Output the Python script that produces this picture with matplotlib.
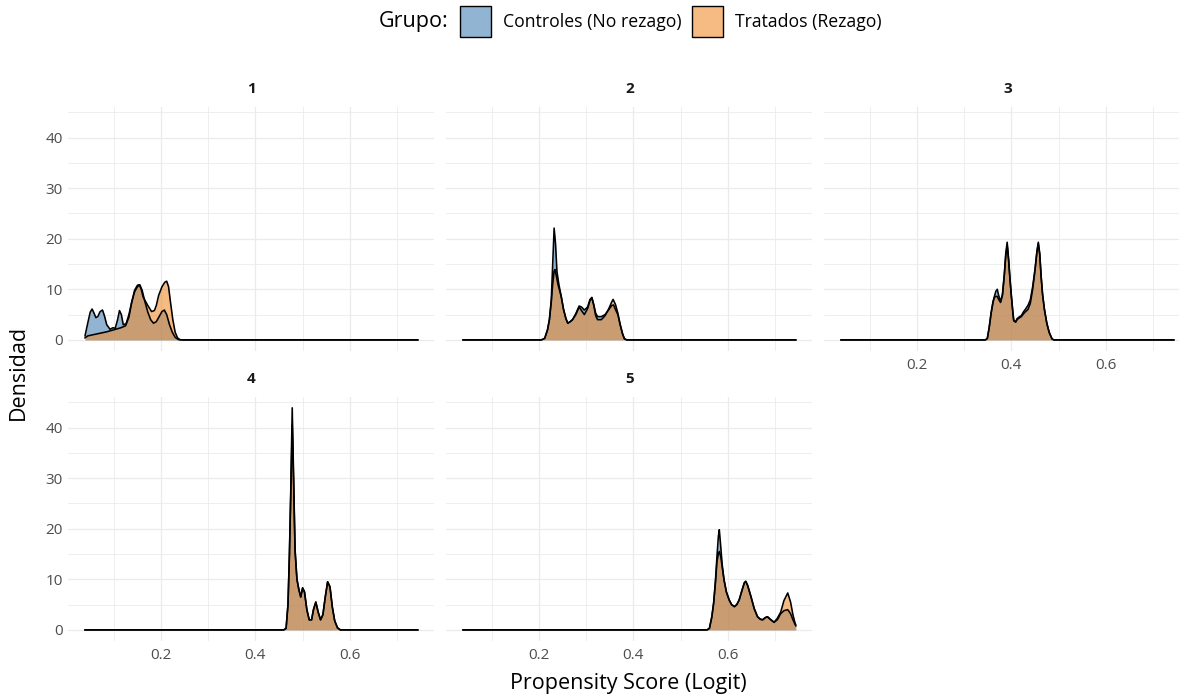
import matplotlib
matplotlib.use("Agg")
import matplotlib.pyplot as plt
from matplotlib.patches import Rectangle

plt.rcParams['font.family'] = ['Open Sans', 'DejaVu Sans']

# ---------------- data ----------------
panels = ["1", "2", "3", "4", "5"]
group_labels = ["Controles (No rezago)", "Tratados (Rezago)"]
x_range = [0.039, 0.744]

p1_x_ctrl = [0.039, 0.044, 0.050, 0.054, 0.058, 0.062, 0.066, 0.071, 0.076, 0.080, 0.085, 0.092, 0.098, 0.103,
             0.108, 0.112, 0.116, 0.120, 0.126, 0.132, 0.138, 0.144, 0.150, 0.155, 0.160, 0.166, 0.172, 0.178,
             0.184, 0.190, 0.196, 0.202, 0.207, 0.212, 0.218, 0.224, 0.230, 0.237, 0.245, 0.744]
p1_y_ctrl = [0.8, 3.0, 5.5, 6.1, 5.3, 4.4, 4.6, 5.6, 5.9, 4.8, 3.0, 2.1, 2.4, 2.3,
             4.0, 5.8, 5.0, 3.0, 3.2, 5.0, 7.5, 9.5, 10.5, 10.9, 9.8, 7.5, 5.5, 4.0,
             3.3, 3.6, 4.6, 5.6, 5.9, 5.0, 3.0, 1.5, 0.5, 0.05, 0.0, 0.0]
p1_x_trat = [0.039, 0.045, 0.055, 0.070, 0.085, 0.100, 0.115, 0.125, 0.132, 0.138, 0.144, 0.150, 0.154, 0.158,
             0.162, 0.166, 0.172, 0.180, 0.186, 0.190, 0.195, 0.202, 0.208, 0.212, 0.216, 0.220, 0.225, 0.230,
             0.235, 0.240, 0.245, 0.744]
p1_y_trat = [0.4, 0.8, 1.0, 1.3, 1.6, 2.0, 2.4, 2.8, 4.5, 7.5, 9.8, 10.8, 10.9, 10.0,
             8.5, 7.8, 6.8, 5.6, 5.8, 6.8, 8.8, 10.5, 11.4, 11.6, 10.5, 7.5, 4.0, 1.5,
             0.4, 0.05, 0.0, 0.0]

p2_x_ctrl = [0.039, 0.205, 0.212, 0.218, 0.222, 0.226, 0.229, 0.232, 0.235, 0.238, 0.242, 0.247, 0.252, 0.257,
             0.261, 0.266, 0.271, 0.278, 0.285, 0.290, 0.296, 0.303, 0.308, 0.312, 0.316, 0.320, 0.324, 0.332,
             0.340, 0.348, 0.354, 0.358, 0.362, 0.367, 0.372, 0.377, 0.381, 0.386, 0.744]
p2_y_ctrl = [0.0, 0.0, 0.3, 2.0, 4.0, 8.0, 15.0, 22.1, 19.0, 13.5, 11.0, 8.6, 6.0, 4.2,
             3.3, 3.6, 4.0, 5.2, 6.7, 6.5, 5.9, 6.5, 8.0, 8.4, 7.0, 5.3, 4.6, 4.6,
             5.0, 6.0, 6.8, 6.9, 6.0, 5.0, 3.0, 1.2, 0.2, 0.0, 0.0]
p2_x_trat = [0.039, 0.205, 0.212, 0.218, 0.222, 0.226, 0.229, 0.232, 0.234, 0.237, 0.240, 0.247, 0.252, 0.257,
             0.261, 0.266, 0.271, 0.278, 0.285, 0.290, 0.296, 0.303, 0.308, 0.312, 0.316, 0.320, 0.324, 0.332,
             0.340, 0.348, 0.354, 0.357, 0.362, 0.367, 0.372, 0.377, 0.381, 0.386, 0.744]
p2_y_trat = [0.0, 0.0, 0.3, 2.0, 4.0, 7.5, 11.0, 13.6, 13.9, 12.5, 11.0, 8.6, 6.0, 4.2,
             3.3, 3.6, 4.0, 5.0, 6.5, 5.8, 5.0, 6.2, 7.8, 8.3, 6.8, 4.8, 4.0, 4.0,
             4.8, 6.2, 7.5, 8.0, 7.0, 5.3, 3.0, 1.2, 0.2, 0.0, 0.0]

p3_x_ctrl = [0.039, 0.345, 0.349, 0.353, 0.357, 0.361, 0.364, 0.367, 0.370, 0.373, 0.377, 0.381, 0.385, 0.388,
             0.391, 0.394, 0.397, 0.400, 0.403, 0.405, 0.409, 0.412, 0.416, 0.421, 0.426, 0.430, 0.435, 0.440,
             0.445, 0.450, 0.454, 0.457, 0.460, 0.463, 0.466, 0.470, 0.475, 0.480, 0.486, 0.490, 0.744]
p3_y_ctrl = [0.0, 0.0, 0.3, 2.5, 5.3, 7.5, 8.6, 9.6, 10.0, 8.8, 7.6, 9.0, 13.0, 17.0,
             19.3, 16.0, 12.0, 8.6, 5.5, 3.8, 3.6, 4.2, 4.5, 4.8, 5.6, 6.1, 6.8, 7.9,
             10.5, 13.9, 17.5, 19.3, 17.0, 12.5, 9.0, 6.0, 3.3, 1.5, 0.2, 0.0, 0.0]
p3_x_trat = p3_x_ctrl
p3_y_trat = [0.0, 0.0, 0.3, 2.5, 5.3, 7.5, 8.4, 8.6, 8.6, 8.0, 7.4, 8.8, 12.8, 16.6,
             18.8, 15.8, 12.0, 8.6, 5.5, 3.8, 3.5, 4.0, 4.3, 4.6, 5.2, 5.6, 6.0, 7.2,
             10.0, 13.8, 17.3, 19.0, 17.0, 12.5, 9.0, 6.0, 3.3, 1.5, 0.2, 0.0, 0.0]

p4_x_ctrl = [0.039, 0.460, 0.465, 0.469, 0.472, 0.475, 0.478, 0.481, 0.484, 0.488, 0.492, 0.496, 0.500, 0.504,
             0.509, 0.514, 0.519, 0.523, 0.528, 0.533, 0.538, 0.543, 0.548, 0.553, 0.558, 0.563, 0.568, 0.574,
             0.580, 0.744]
p4_y_ctrl = [0.0, 0.0, 0.3, 5.0, 14.9, 28.0, 43.9, 30.0, 16.0, 10.0, 8.0, 6.5, 8.3, 7.5,
             4.0, 2.0, 2.0, 4.0, 5.5, 3.5, 2.0, 3.0, 6.5, 9.5, 8.5, 4.5, 1.8, 0.4,
             0.0, 0.0]
p4_x_trat = p4_x_ctrl
p4_y_trat = [0.0, 0.0, 0.3, 5.0, 14.5, 27.0, 40.5, 29.0, 15.5, 10.0, 8.0, 6.5, 8.3, 7.5,
             4.0, 2.0, 2.0, 4.0, 5.5, 3.5, 2.0, 3.0, 6.5, 9.5, 8.5, 4.5, 1.8, 0.4,
             0.0, 0.0]

p5_x_ctrl = [0.039, 0.556, 0.561, 0.566, 0.570, 0.574, 0.577, 0.580, 0.582, 0.585, 0.588, 0.592, 0.597, 0.603,
             0.608, 0.614, 0.619, 0.624, 0.630, 0.635, 0.638, 0.642, 0.649, 0.656, 0.663, 0.669, 0.674, 0.679,
             0.684, 0.690, 0.698, 0.705, 0.712, 0.719, 0.727, 0.733, 0.738, 0.742, 0.744]
p5_y_ctrl = [0.0, 0.0, 0.3, 2.5, 5.3, 10.0, 14.5, 18.5, 19.8, 16.5, 13.0, 9.9, 7.5, 5.9,
             5.0, 4.6, 5.0, 5.9, 7.8, 9.3, 9.6, 8.8, 6.6, 4.2, 2.6, 2.1, 2.0, 2.4,
             2.6, 2.1, 1.5, 2.0, 3.2, 3.8, 4.0, 3.2, 2.0, 1.2, 0.8]
p5_x_trat = p5_x_ctrl
p5_y_trat = [0.0, 0.0, 0.3, 2.5, 5.3, 9.5, 13.5, 15.0, 15.5, 14.5, 12.5, 9.9, 7.5, 5.9,
             5.0, 4.6, 5.0, 5.9, 7.8, 9.3, 9.6, 8.8, 6.6, 4.2, 2.6, 2.1, 2.0, 2.4,
             2.6, 2.1, 1.5, 2.3, 3.5, 5.8, 7.3, 5.5, 3.0, 1.5, 1.0]

x_ticks = [0.2, 0.4, 0.6]
x_minor = [0.1, 0.3, 0.5, 0.7]
y_ticks = [0, 10, 20, 30, 40]
y_minor = [5, 15, 25, 35, 45]

series = {
    "1": ((p1_x_ctrl, p1_y_ctrl), (p1_x_trat, p1_y_trat)),
    "2": ((p2_x_ctrl, p2_y_ctrl), (p2_x_trat, p2_y_trat)),
    "3": ((p3_x_ctrl, p3_y_ctrl), (p3_x_trat, p3_y_trat)),
    "4": ((p4_x_ctrl, p4_y_ctrl), (p4_x_trat, p4_y_trat)),
    "5": ((p5_x_ctrl, p5_y_ctrl), (p5_x_trat, p5_y_trat)),
}

# ---------------- style ----------------
col_ctrl = '#4682B4'
col_trat = '#F08C30'
alpha = 0.6
grid_col = '#EBEBEB'
tick_col = '#4D4D4D'

W, H = 1179, 696
fig = plt.figure(figsize=(W / 100, H / 100), dpi=100)
fig.patch.set_facecolor('white')

span = x_range[1] - x_range[0]
xlim = (x_range[0] - 0.05 * span, x_range[1] + 0.05 * span)
ymax = max(max(max(s[0][1]), max(s[1][1])) for s in series.values())
ylim = (-0.05 * ymax, 1.05 * ymax)

# panel geometry in pixels
col_left = [68.4, 446.4, 824.4]
panel_w = 366.0
row_top = [106.7, 396.7]
panel_h = 244.3

layout = {"1": (0, 0), "2": (0, 1), "3": (0, 2), "4": (1, 0), "5": (1, 1)}

for name in panels:
    r, c = layout[name]
    left = col_left[c] / W
    bottom = 1 - (row_top[r] + panel_h) / H
    ax = fig.add_axes([left, bottom, panel_w / W, panel_h / H])
    ax.set_xlim(*xlim)
    ax.set_ylim(*ylim)
    for s in ax.spines.values():
        s.set_visible(False)
    ax.set_xticks(x_ticks)
    ax.set_xticks(x_minor, minor=True)
    ax.set_yticks(y_ticks)
    ax.set_yticks(y_minor, minor=True)
    ax.grid(True, which='major', color=grid_col, linewidth=0.9)
    ax.grid(True, which='minor', color=grid_col, linewidth=0.6)
    ax.set_axisbelow(True)
    ax.tick_params(which='both', length=0, colors=tick_col, labelsize=11)
    ax.tick_params(axis='x', pad=5)
    ax.tick_params(axis='y', pad=4)
    show_x = name in ("3", "4", "5")
    show_y = name in ("1", "4")
    if not show_x:
        ax.set_xticklabels([])
    else:
        ax.set_xticklabels([f"{v:.1f}" for v in x_ticks])
    if not show_y:
        ax.set_yticklabels([])
    for (xs, ys), col in zip(series[name], (col_ctrl, col_trat)):
        ax.fill_between(xs, 0, ys, color=col, alpha=alpha, linewidth=0)
        ax.plot(xs, ys, color='black', linewidth=1.15, solid_joinstyle='round')
    # strip label
    fig.text((col_left[c] + panel_w / 2) / W, 1 - (row_top[r] - 18) / H, name,
             ha='center', va='center', fontsize=11, fontweight='bold', color='#1A1A1A')

# axis titles
fig.text(18 / W, 1 - 372 / H, "Densidad", rotation=90, ha='center', va='center',
         fontsize=15.5, color='black')
fig.text(628 / W, 1 - 683 / H, "Propensity Score (Logit)", ha='center', va='center',
         fontsize=15.5, color='black')

# legend
fig.text(379 / W, 1 - 22 / H, "Grupo:", ha='left', va='center', fontsize=15.5, color='black')
for x0, col, label, tx in ((460, col_ctrl, group_labels[0], 503),
                           (692, col_trat, group_labels[1], 735)):
    fig.patches.append(Rectangle((x0 / W, 1 - 37 / H), 31 / W, 31 / H, transform=fig.transFigure,
                                 facecolor=col, alpha=alpha, edgecolor='none'))
    fig.patches.append(Rectangle((x0 / W, 1 - 37 / H), 31 / W, 31 / H, transform=fig.transFigure,
                                 facecolor='none', edgecolor='black', linewidth=1.0))
    fig.text(tx / W, 1 - 22 / H, label, ha='left', va='center', fontsize=12.7, color='black')

fig.savefig('out.png', dpi=100, facecolor='white')
